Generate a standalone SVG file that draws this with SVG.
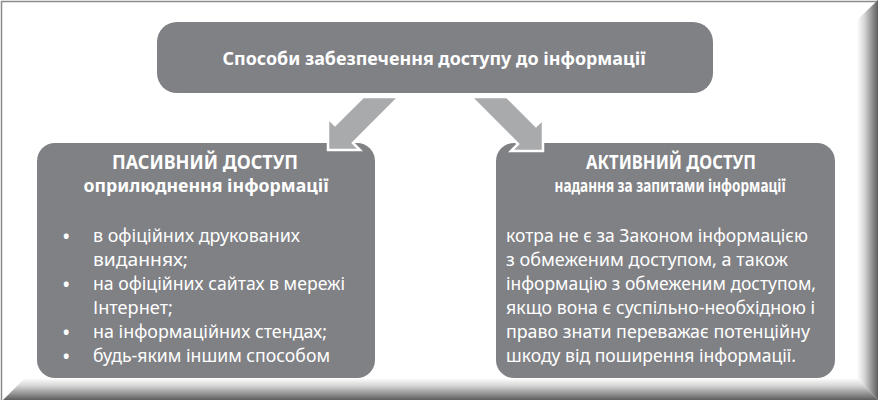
<svg xmlns="http://www.w3.org/2000/svg" width="878" height="400" viewBox="0 0 878 400">
<style>
.box{fill:#808185}
.arrow{fill:#a9aaac;stroke:#ffffff;stroke-width:2.5;stroke-linejoin:miter}
.t{font-family:"Noto Sans","Open Sans","Liberation Sans",sans-serif;fill:#ffffff}
.b{font-weight:bold}
.h{font-size:19px;text-anchor:middle}
.s{font-size:17.5px;text-anchor:middle}
.l{font-size:18.5px}
.dot{font-size:17px;font-weight:bold}
</style>
<defs>
<linearGradient id="gR" x1="0" y1="0" x2="1" y2="0">
<stop offset="0" stop-color="#ffffff"/>
<stop offset="0.35" stop-color="#d6d6d6"/>
<stop offset="1" stop-color="#5e5e5e"/>
</linearGradient>
<linearGradient id="gB" x1="0" y1="0" x2="0" y2="1">
<stop offset="0" stop-color="#ffffff"/>
<stop offset="0.35" stop-color="#d6d6d6"/>
<stop offset="1" stop-color="#5e5e5e"/>
</linearGradient>
</defs>
<rect x="0" y="0" width="878" height="400" fill="#ffffff"/>
<g id="frame">
<path d="M1.5 400 V1.5 H878" fill="none" stroke="#8a8a8a" stroke-width="1.5"/>
</g>
<g id="node-top">
<rect class="box" x="157" y="22" width="556" height="71" rx="20"/>
<text class="t b" x="434" y="65" font-size="17" text-anchor="middle" textLength="423" lengthAdjust="spacingAndGlyphs">Способи забезпечення доступу до інформації</text>
</g>
<g id="node-passive">
<rect class="box" x="37" y="143" width="338" height="235" rx="18"/>
<text class="t b h" x="205" y="169" textLength="186" lengthAdjust="spacingAndGlyphs">ПАСИВНИЙ ДОСТУП</text>
<text class="t b s" x="206" y="192" textLength="245" lengthAdjust="spacingAndGlyphs">оприлюднення інформації</text>
<text class="t dot" x="63" y="243">•</text>
<text class="t dot" x="63" y="291">•</text>
<text class="t dot" x="63" y="339">•</text>
<text class="t dot" x="63" y="363">•</text>
<text class="t l" x="93" y="242" textLength="207" lengthAdjust="spacingAndGlyphs">в офіційних друкованих</text>
<text class="t l" x="93" y="266" textLength="95" lengthAdjust="spacingAndGlyphs">виданнях;</text>
<text class="t l" x="93" y="290" textLength="252" lengthAdjust="spacingAndGlyphs">на офіційних сайтах в мережі</text>
<text class="t l" x="93" y="314" textLength="80" lengthAdjust="spacingAndGlyphs">Інтернет;</text>
<text class="t l" x="93" y="338" textLength="234" lengthAdjust="spacingAndGlyphs">на інформаційних стендах;</text>
<text class="t l" x="93" y="362" textLength="237" lengthAdjust="spacingAndGlyphs">будь-яким іншим способом</text>
</g>
<g id="node-active">
<rect class="box" x="496" y="143" width="339" height="235" rx="18"/>
<text class="t b h" x="671" y="169" textLength="170" lengthAdjust="spacingAndGlyphs">АКТИВНИЙ ДОСТУП</text>
<text class="t b s" x="670" y="192" textLength="231" lengthAdjust="spacingAndGlyphs">надання за запитами інформації</text>
<text class="t l" x="506" y="242" textLength="302" lengthAdjust="spacingAndGlyphs">котра не є за Законом інформацією</text>
<text class="t l" x="506" y="266" textLength="282" lengthAdjust="spacingAndGlyphs">з обмеженим доступом, а також</text>
<text class="t l" x="506" y="290" textLength="310" lengthAdjust="spacingAndGlyphs">інформацію з обмеженим доступом,</text>
<text class="t l" x="506" y="314" textLength="309" lengthAdjust="spacingAndGlyphs">якщо вона є суспільно-необхідною і</text>
<text class="t l" x="506" y="338" textLength="304" lengthAdjust="spacingAndGlyphs">право знати переважає потенційну</text>
<text class="t l" x="506" y="362" textLength="290" lengthAdjust="spacingAndGlyphs">шкоду від поширення інформації.</text>
</g>
<g id="connectors">
<polygon class="arrow" points="363,97 399,97 353,143 360,150 328,150 328,118 335,125"/>
<polygon class="arrow" points="471,97 507,97 536,126 543,119 543,151 511,151 518,144"/>
</g>
<g id="bevel">
<polygon points="857,20 878,0 878,400 857,378" fill="url(#gR)"/>
<polygon points="25,378 857,378 878,400 3,400" fill="url(#gB)"/>
</g>
</svg>
